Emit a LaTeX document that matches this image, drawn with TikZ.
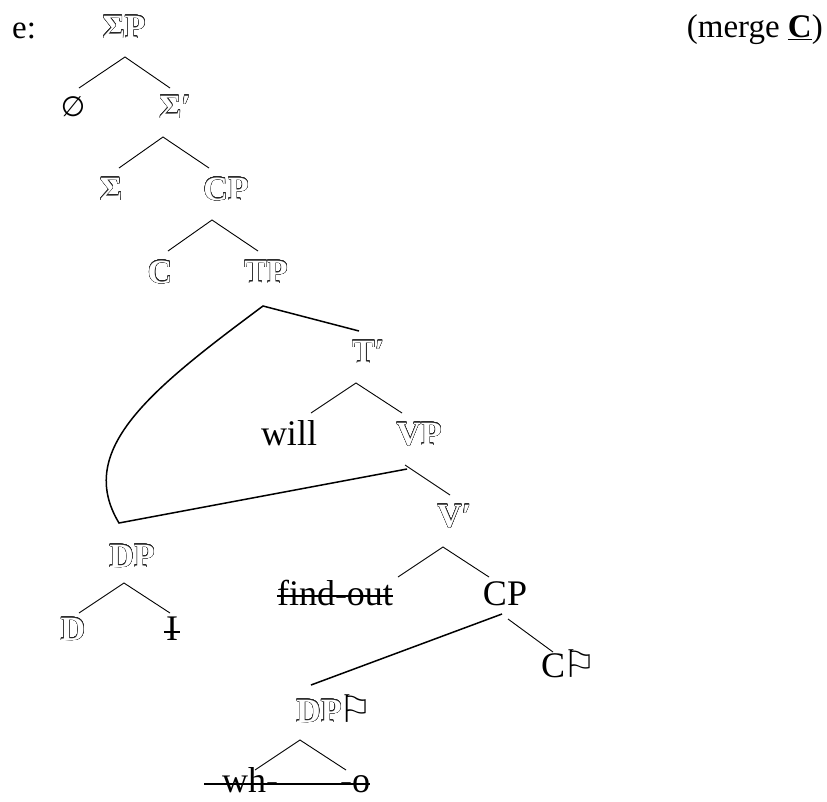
\documentclass[tikz,border=0pt]{standalone}
\usepackage{fontspec}
\setmainfont{Liberation Serif}
\newfontfamily\symfont{DejaVu Sans}
\usepackage{contour}
\contourlength{0.32pt}
\contournumber{24}
\newcommand{\outl}[1]{{\fontsize{34}{40}\selectfont\bfseries\color{white}\contour{black!85}{#1}}}
\newcommand{\flagsym}{{\kern-3pt\symfont\fontsize{38}{40}\selectfont ⚐}}
\tikzset{
  lbl/.style={anchor=base, inner sep=0pt, font=\fontsize{36}{42}\selectfont},
  hdr/.style={inner sep=0pt, font=\fontsize{33}{38}\selectfont},
  branch/.style={line width=0.9pt, line join=miter},
  movel/.style={line width=1.5pt, line join=miter},
  strike/.style={line width=1.3pt}
}
\begin{document}
\begin{tikzpicture}[x=1pt,y=-1pt]
\useasboundingbox (0,0) rectangle (827,801);
% labels
\node[hdr, anchor=base west] (e) at (12,38) {e:};
\node[hdr, anchor=base east] (mg) at (823,37) {(merge \underline{\textbf{C}})};
\node[lbl] (sigp) at (124,38) {\outl{ΣP}};
\node[lbl] (empty) at (73,116) {{\symfont\fontsize{28}{30}\selectfont ∅}};
\node[lbl, anchor=base west] (sigbar) at (159,118) {\outl{Σ′}};
\node[lbl] (sig) at (111,200) {\outl{Σ}};
\node[lbl] (cpa) at (226,200) {\outl{CP}};
\node[lbl] (ca) at (160,283) {\outl{C}};
\node[lbl] (tp) at (266,283) {\outl{TP}};
\node[lbl, anchor=base west] (tbar) at (352,363) {\outl{T′}};
\node[lbl] (will) at (289,445) {will};
\node[lbl] (vp) at (419,445) {\outl{VP}};
\node[lbl, anchor=base west] (vbar) at (437,527) {\outl{V′}};
\node[lbl] (dpa) at (132,567) {\outl{DP}};
\node[lbl] (d) at (73,640) {\outl{D}};
\node[lbl] (ii) at (172,640) {I};
\node[lbl] (fo) at (335,605) {find-out};
\node[lbl] (cpb) at (505,605) {CP};
\node[lbl, anchor=base west] (cf) at (541,677) {C\flagsym};
\node[lbl, anchor=base west] (dpf) at (296,722) {\outl{DP}\flagsym};
\node[lbl, anchor=base west] (wh) at (222,792) {wh-};
\node[lbl, anchor=base west] (oo) at (340,792) {-o};
% strike-throughs
\draw[strike] ([yshift=9pt]fo.base west) -- ([yshift=9pt]fo.base east);
\draw[strike] ([xshift=-2pt,yshift=8pt]ii.base west) -- ([xshift=2pt,yshift=8pt]ii.base east);
\draw[strike] ([xshift=-18pt,yshift=8pt]wh.base west) -- ([yshift=8pt]oo.base east);
% branch points
\coordinate (r1) at (125,57); \coordinate (r1l) at (79,88); \coordinate (r1r) at (170,88);
\coordinate (r2) at (163,137); \coordinate (r2l) at (119,168); \coordinate (r2r) at (209,168);
\coordinate (r3) at (212,220); \coordinate (r3l) at (168,251); \coordinate (r3r) at (258,251);
\coordinate (r4) at (263,306); \coordinate (r4r) at (359,331); \coordinate (r4k) at (119,523);
\coordinate (r5) at (356,383); \coordinate (r5l) at (311,413); \coordinate (r5r) at (402,413);
\coordinate (r6) at (407,469); \coordinate (r6s) at (405,465); \coordinate (r6r) at (450,495);
\coordinate (r7) at (443,547); \coordinate (r7l) at (398,577); \coordinate (r7r) at (489,577);
\coordinate (r8) at (502,614); \coordinate (r8l) at (311,685); \coordinate (r8s) at (508,619); \coordinate (r8r) at (553,652);
\coordinate (r9) at (300,740); \coordinate (r9l) at (255,770); \coordinate (r9r) at (346,770);
\coordinate (r10) at (124,583); \coordinate (r10l) at (79,613); \coordinate (r10r) at (170,613);
% branches
\draw[branch] (r1l) -- (r1) -- (r1r);
\draw[branch] (r2l) -- (r2) -- (r2r);
\draw[branch] (r3l) -- (r3) -- (r3r);
\draw[movel] (r4r) -- (r4) .. controls (150,390) and (75,450) .. (r4k) -- (r6);
\draw[branch] (r5l) -- (r5) -- (r5r);
\draw[branch] (r6s) -- (r6r);
\draw[branch] (r7l) -- (r7) -- (r7r);
\draw[movel] (r8) -- (r8l);
\draw[branch] (r8s) -- (r8r);
\draw[branch] (r9l) -- (r9) -- (r9r);
\draw[branch] (r10l) -- (r10) -- (r10r);
\end{tikzpicture}
\end{document}
